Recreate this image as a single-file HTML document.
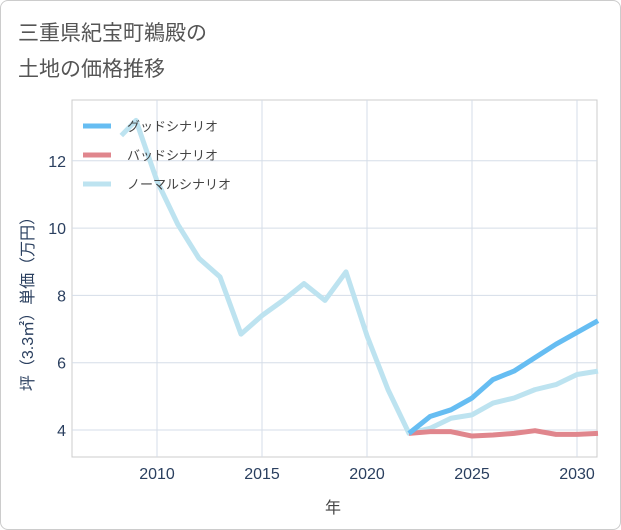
<!DOCTYPE html>
<html><head><meta charset="utf-8"><style>
body{margin:0;background:#fff;font-family:"Liberation Sans","Noto Sans CJK JP",sans-serif;}
#card{position:absolute;left:0;top:0;width:619px;height:528px;border:1px solid #ccc;border-radius:8px;}
</style></head><body>
<div id="card"></div>
<svg id="c" width="621" height="530" style="position:absolute;left:0;top:0">
<text x="18" y="40" font-size="21" fill="#555">三重県紀宝町鵜殿の</text>
<text x="18" y="76" font-size="21" fill="#555">土地の価格推移</text>
<g id="grid"></g><g id="series"></g><g id="legend"></g>
<text x="333" y="513" font-size="16" fill="#444" text-anchor="middle">年</text>
<text transform="translate(33,300) rotate(-90)" font-size="16" fill="#2a3f5f" text-anchor="middle">坪（3.3㎡）単価（万円）</text>
</svg>
<script>
const xTicks=[2010,2015,2020,2025,2030];
const yTicks=[4,6,8,10,12];
const normalYears=[2008.3,2009,2010,2011,2012,2013,2014,2015,2016,2017,2018,2019,2020,2021,2022,2023,2024,2025,2026,2027,2028,2029,2030,2031];
const normalVals=[12.75,13.2,11.4,10.1,9.1,8.55,6.85,7.4,7.85,8.35,7.85,8.7,6.8,5.2,3.9,4.05,4.35,4.45,4.8,4.95,5.2,5.35,5.65,5.75];
const futureYears=[2022,2023,2024,2025,2026,2027,2028,2029,2030,2031];
const goodVals=[3.9,4.4,4.6,4.95,5.5,5.75,6.15,6.55,6.9,7.25];
const badVals=[3.9,3.95,3.95,3.82,3.85,3.9,3.98,3.87,3.87,3.9];
const L=72,R=597,T=100,B=457;
const X=v=>157+(v-2010)*21;
const Y=v=>430-(v-4)*33.65;
const NS="http://www.w3.org/2000/svg";
function mk(p,t,a){const e=document.createElementNS(NS,t);for(const k in a)e.setAttribute(k,a[k]);p.appendChild(e);return e;}
const g=document.getElementById('grid');
const frame=mk(g,'rect',{x:L,y:T,width:R-L,height:B-T,fill:'none',stroke:'#ccc'});


xTicks.forEach(t=>{
 const l=mk(g,'line',{x1:X(t),x2:X(t),y1:T,y2:B,stroke:'#d5dde8'});
 
 
 const tx=mk(g,'text',{x:X(t),y:479,'font-size':16,fill:'#2a3f5f','text-anchor':'middle'});tx.textContent=t;
 
 
});
yTicks.forEach(t=>{
 const l=mk(g,'line',{x1:L,x2:R,y1:Y(t),y2:Y(t),stroke:'#d5dde8'});
 
 
 const tx=mk(g,'text',{x:66,y:Y(t)+6,'font-size':16,fill:'#2a3f5f','text-anchor':'end'});tx.textContent=t;
 
 
});
const s=document.getElementById('series');
function line(xs,ys,c,name){
 const p=mk(s,'polyline',{points:xs.map((x,i)=>X(x)+','+Y(ys[i])).join(' '),fill:'none',stroke:c,'stroke-width':5,'stroke-linejoin':'round'});
 
 
}
line(normalYears,normalVals,'#bde3f0','normal-scenario-line');
line(futureYears,badVals,'#e0868d','bad-scenario-line');
line(futureYears,goodVals,'#66bdf2','good-scenario-line');
const lg=document.getElementById('legend');
[['グッドシナリオ','#66bdf2'],['バッドシナリオ','#e0868d'],['ノーマルシナリオ','#bde3f0']].forEach((e,i)=>{
 const y=126+i*29;
 const r=mk(lg,'line',{x1:83,x2:111,y1:y,y2:y,stroke:e[1],'stroke-width':5});
 
 
 const t=mk(lg,'text',{x:127,y:y+5,'font-size':13,fill:'#444'});t.textContent=e[0];
 
 
});
</script>
</body></html>
